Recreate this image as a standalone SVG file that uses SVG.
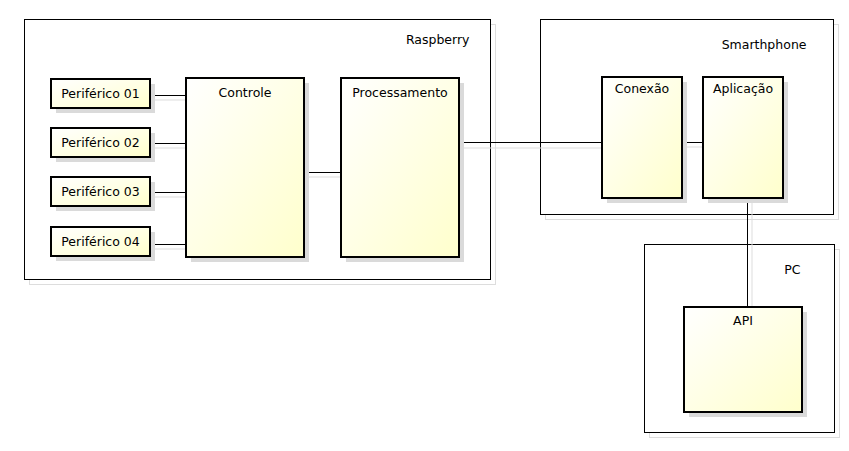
<svg xmlns="http://www.w3.org/2000/svg" width="849" height="451" viewBox="0 0 849 451">
<defs>
<linearGradient id="g" x1="0" y1="0" x2="1" y2="1">
<stop offset="0" stop-color="#ffffff"/>
<stop offset="1" stop-color="#ffffcc"/>
</linearGradient>
<style>
.cont{fill:#ffffff;stroke:#000;stroke-width:1}
.cshadow{fill:none;stroke:#dddddd;stroke-width:1}
.box{fill:url(#g);stroke:#000;stroke-width:2}
.shadow{fill:#dadada;stroke:none}
.ln{stroke:#000;stroke-width:1;fill:none}
.lns{stroke:#dddddd;stroke-width:1;fill:none}
text{font-family:"DejaVu Sans","Liberation Sans",sans-serif;font-size:12.5px;fill:#000}
.c{text-anchor:middle}
.e{text-anchor:end}
</style>
</defs>
<rect width="849" height="451" fill="#ffffff"/>

<g id="raspberry">
<rect class="cshadow" x="29.5" y="24.5" width="466" height="260"/>
<rect class="cont" x="24.5" y="19.5" width="466" height="260"/>
<text class="e" x="469.5" y="43.5">Raspberry</text>
</g>
<g id="smarthphone">
<rect class="cshadow" x="545.5" y="24.5" width="293" height="195"/>
<rect class="cont" x="540.5" y="19.5" width="293" height="195"/>
<text class="e" x="806.5" y="49">Smarthphone</text>
</g>
<g id="pc">
<rect class="cshadow" x="649.5" y="249.5" width="190" height="188"/>
<rect class="cont" x="644.5" y="244.5" width="190" height="188"/>
<text class="e" x="800.5" y="273.5">PC</text>
</g>

<g id="connectors">
<path class="lns" d="M155 100H191M155 148H191M155 197H191M155 249H191M309 177H346M464 148H607M687 147H708M752 203V312"/>
<path class="ln" d="M150 95.5H186M150 143.5H186M150 192.5H186M150 244.5H186M304 172.5H341M459 142.5H602M682 142.5H703M747.5 198V307"/>
</g>

<g id="periferico01">
<rect class="shadow" x="56" y="84" width="99" height="29"/>
<rect class="box" x="51" y="79" width="99" height="29"/>
<text class="c" x="100.5" y="97.5">Periférico 01</text>
</g>
<g id="periferico02">
<rect class="shadow" x="56" y="133" width="99" height="29"/>
<rect class="box" x="51" y="128" width="99" height="29"/>
<text class="c" x="100.5" y="146.5">Periférico 02</text>
</g>
<g id="periferico03">
<rect class="shadow" x="56" y="182" width="99" height="29"/>
<rect class="box" x="51" y="177" width="99" height="29"/>
<text class="c" x="100.5" y="195.5">Periférico 03</text>
</g>
<g id="periferico04">
<rect class="shadow" x="56" y="232" width="99" height="29"/>
<rect class="box" x="51" y="227" width="99" height="29"/>
<text class="c" x="100.5" y="245.5">Periférico 04</text>
</g>
<g id="controle">
<rect class="shadow" x="191" y="83" width="118" height="179"/>
<rect class="box" x="186" y="78" width="118" height="179"/>
<text class="c" x="245" y="96.5">Controle</text>
</g>
<g id="processamento">
<rect class="shadow" x="346" y="83" width="118" height="179"/>
<rect class="box" x="341" y="78" width="118" height="179"/>
<text class="c" x="400" y="96.5">Processamento</text>
</g>
<g id="conexao">
<rect class="shadow" x="607" y="82" width="80" height="121"/>
<rect class="box" x="602" y="77" width="80" height="121"/>
<text class="c" x="642" y="93">Conexão</text>
</g>
<g id="aplicacao">
<rect class="shadow" x="708" y="82" width="80" height="121"/>
<rect class="box" x="703" y="77" width="80" height="121"/>
<text class="c" x="743" y="93">Aplicação</text>
</g>
<g id="api">
<rect class="shadow" x="689" y="312" width="118" height="105"/>
<rect class="box" x="684" y="307" width="118" height="105"/>
<text class="c" x="743" y="325">API</text>
</g>
</svg>
